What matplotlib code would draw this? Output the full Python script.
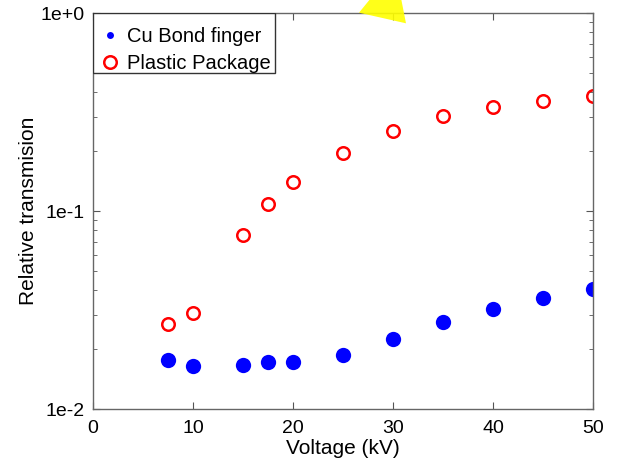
import matplotlib
matplotlib.use("Agg")
import matplotlib.pyplot as plt
from matplotlib.lines import Line2D
from matplotlib.patches import Polygon, Rectangle
from matplotlib.ticker import FixedLocator, FixedFormatter, LogLocator, NullFormatter

voltage_cu = [7.5, 10, 15, 17.5, 20, 25, 30, 35, 40, 45, 50]
cu_bond = [0.0177, 0.0165, 0.0167, 0.0172, 0.0173, 0.0188, 0.0227, 0.0274, 0.0321, 0.0363, 0.0404]
voltage_pl = [7.5, 10, 15, 17.5, 20, 25, 30, 35, 40, 45, 50]
plastic = [0.0270, 0.0304, 0.0760, 0.1088, 0.140, 0.196, 0.2535, 0.301, 0.3355, 0.3597, 0.383]
xticks = [0, 10, 20, 30, 40, 50]
yticks = [1e-2, 1e-1, 1e0]
ytick_labels = ["1e-2", "1e-1", "1e+0"]

plt.rcParams['font.family'] = ['Liberation Sans', 'DejaVu Sans']
fig = plt.figure(figsize=(6.19, 4.62), dpi=100)
AX_L, AX_R, AX_T, AX_B = 93, 593, 13, 409
AW, AH = AX_R - AX_L, AX_B - AX_T
ax = fig.add_axes([AX_L/619, 1-AX_B/462, AW/619, AH/462])

ax.plot(voltage_cu, cu_bond, 'o', color='#0000ff', markersize=11, markeredgewidth=0, linestyle='none')
ax.plot(voltage_pl, plastic, 'o', markerfacecolor='none', markeredgecolor='#ff0000',
        markersize=9, markeredgewidth=1.8, linestyle='none')

ax.set_yscale('log')
ax.set_xlim(0, 50)
ax.set_ylim(1e-2, 1e0)
ax.xaxis.set_major_locator(FixedLocator(xticks))
ax.yaxis.set_major_locator(FixedLocator(yticks))
ax.yaxis.set_major_formatter(FixedFormatter(ytick_labels))
ax.yaxis.set_minor_locator(LogLocator(base=10, subs=range(2, 10)))
ax.yaxis.set_minor_formatter(NullFormatter())
ax.tick_params(which='both', direction='in', top=True, right=True, labelsize=14,
               colors='#555555', labelcolor='black')
ax.tick_params(which='major', length=5)
ax.tick_params(which='minor', length=3)
ax.tick_params(axis='x', which='major', pad=8)
ax.tick_params(axis='y', which='major', pad=6)
for s in ax.spines.values():
    s.set_color('#666666')
    s.set_linewidth(1.0)

ax.set_xlabel('Voltage (kV)', fontsize=15, labelpad=1)
ax.set_ylabel('Relative transmision', fontsize=15)
ax.yaxis.set_label_coords((38 - AX_L)/AW, 0.5)

# legend box (MATLAB style) drawn as a rectangle, legend itself frameless
box = Rectangle((0, 1 - (73 - AX_T)/AH), (275 - AX_L)/AW, (73 - AX_T)/AH, transform=ax.transAxes,
                facecolor='white', edgecolor='#333333', linewidth=1.0, zorder=4)
ax.add_patch(box)
handles = [
    Line2D([], [], marker='o', color='#0000ff', markersize=5, markeredgewidth=0, linestyle='none'),
    Line2D([], [], marker='o', markerfacecolor='none', markeredgecolor='#ff0000', markersize=9,
           markeredgewidth=1.8, linestyle='none'),
]
leg = ax.legend(handles, ['Cu Bond finger', 'Plastic Package'], loc='upper left',
                bbox_to_anchor=(3/AW, 1 - 10/AH), borderaxespad=0, fontsize=14.5, frameon=False,
                handlelength=1.0, handletextpad=0.35, borderpad=0.2, labelspacing=0.4)
leg.set_zorder(5)

# yellow pointer shape at the top (figure pixel coordinates)
pts = [(359, 12.7), (371, -2), (401, -2), (406, 23.3)]
poly = Polygon([(x/619, 1 - y/462) for x, y in pts], closed=True, transform=fig.transFigure,
               facecolor='#ffff00', edgecolor='none', alpha=0.9, clip_on=False, zorder=10)
fig.patches.append(poly)

fig.savefig('out.png', dpi=100)
